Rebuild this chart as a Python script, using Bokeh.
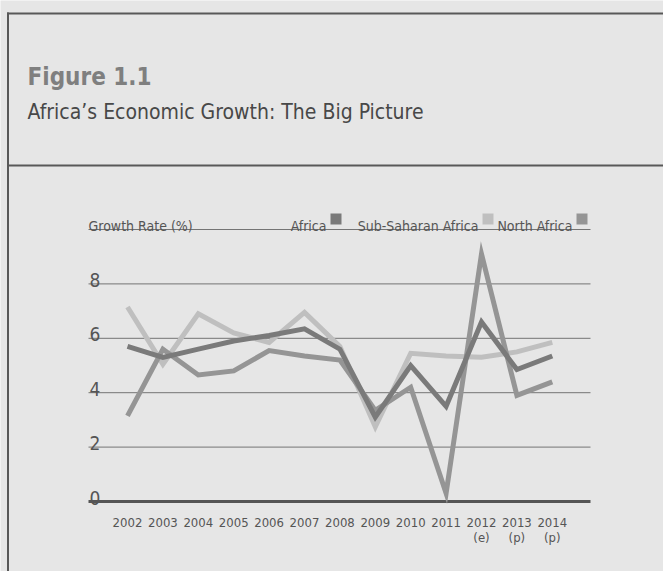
from bokeh.plotting import figure
from bokeh.models import Range1d
from bokeh.core.properties import value
from bokeh.embed import file_html
from bokeh.resources import INLINE

# ---------------- data ----------------
years = [2002, 2003, 2004, 2005, 2006, 2007, 2008, 2009, 2010, 2011, 2012, 2013, 2014]
year_labels = ["2002", "2003", "2004", "2005", "2006", "2007", "2008", "2009", "2010", "2011", "2012", "2013", "2014"]
year_sub = ["", "", "", "", "", "", "", "", "", "", "(e)", "(p)", "(p)"]
africa = [5.7, 5.3, 5.6, 5.9, 6.1, 6.35, 5.6, 3.1, 5.0, 3.5, 6.6, 4.85, 5.35]
sub_saharan = [7.15, 5.05, 6.9, 6.2, 5.85, 6.95, 5.7, 2.75, 5.45, 5.35, 5.3, 5.5, 5.85]
north_africa = [3.15, 5.6, 4.65, 4.8, 5.55, 5.35, 5.2, 3.35, 4.2, 0.3, 9.1, 3.9, 4.4]
y_ticks = [0, 2, 4, 6, 8]
grid_values = [2, 4, 6, 8, 10]
series_names = ["Africa", "Sub-Saharan Africa", "North Africa"]

# ---------------- layout helpers (pixel -> data) ----------------
W, H = 663, 571
XSTEP = 35.4          # px per year
X2002 = 127.0         # x pixel of 2002
YUNIT = 27.2          # px per growth point
Y0 = 501.0            # y pixel of value 0
x_start = 2002 - X2002 / XSTEP
x_end = x_start + W / XSTEP
y_start = -(H - Y0) / YUNIT
y_end = y_start + H / YUNIT


def dx(px):
    return x_start + px / XSTEP


def dy(py):
    return (Y0 - py) / YUNIT


FONT = value("DejaVu Sans Condensed, Roboto, sans-serif")
BG = "#e6e6e6"
C_AFR = "#7a7a7a"
C_SSA = "#bfbfbf"
C_NA = "#959595"
TXT = "#555555"

p = figure(width=W, height=H, output_backend="svg", toolbar_location=None,
           x_range=Range1d(x_start, x_end), y_range=Range1d(y_start, y_end),
           x_axis_type=None, y_axis_type=None,
           min_border=0, min_border_left=0, min_border_right=0,
           min_border_top=0, min_border_bottom=0)
p.outline_line_color = None
p.background_fill_color = BG
p.border_fill_color = BG
p.grid.visible = False

# frame lines
p.segment(x0=[dx(7.5)], y0=[dy(12)], x1=[dx(7.5)], y1=[dy(620)], line_color="#585858", line_width=2)
p.segment(x0=[dx(6.5)], y0=[dy(13)], x1=[dx(720)], y1=[dy(13)], line_color="#585858", line_width=2)
p.segment(x0=[dx(6.5)], y0=[dy(165)], x1=[dx(720)], y1=[dy(165)], line_color="#585858", line_width=2)

# titles
p.text(x=[dx(27)], y=[dy(76)], text=["Figure 1.1"], text_font=FONT, text_font_style="bold",
       text_font_size="24px", text_color="#7f7f7f", text_baseline="alphabetic")
p.text(x=[dx(27)], y=[dy(111)], text=["Africa\u2019s Economic Growth: The Big Picture"], text_font=FONT,
       text_font_size="21px", text_color="#484848", text_baseline="alphabetic")

# gridlines
p.segment(x0=[dx(88)] * len(grid_values), y0=grid_values, x1=[dx(590)] * len(grid_values), y1=grid_values,
          line_color="#747474", line_width=1)
p.segment(x0=[dx(88)], y0=[0], x1=[dx(590)], y1=[0], line_color="#555555", line_width=3)

# y tick labels (above gridlines)
p.text(x=[dx(89)] * len(y_ticks), y=[v + 4 / YUNIT for v in y_ticks], text=[str(v) for v in y_ticks],
       text_font=FONT, text_font_size="19px", text_color=TXT, text_baseline="alphabetic",
       text_align="left")

# x labels
p.text(x=years, y=[dy(521.5)] * len(years), text=year_labels, text_font=FONT, text_font_size="13px",
       text_color=TXT, text_baseline="alphabetic", text_align="center")
p.text(x=years, y=[dy(537)] * len(years), text=year_sub, text_font=FONT, text_font_size="13px",
       text_color=TXT, text_baseline="alphabetic", text_align="center")

# axis title + legend
p.text(x=[dx(88)], y=[dy(225)], text=["Growth Rate (%)"], text_font=FONT, text_font_size="14px",
       text_color=TXT, text_baseline="alphabetic")
sw_right = [341, 493, 587]
sw_colors = [C_AFR, C_SSA, C_NA]
p.quad(left=[dx(r - 11) for r in sw_right], right=[dx(r) for r in sw_right],
       top=[dy(213)] * 3, bottom=[dy(224)] * 3, fill_color=sw_colors, line_color=None)
p.text(x=[dx(r - 15) for r in sw_right], y=[dy(225)] * 3, text=series_names, text_font=FONT,
       text_font_size="14px", text_color=TXT, text_baseline="alphabetic", text_align="right")

# series
p.line(years, sub_saharan, line_color=C_SSA, line_width=5, line_join="miter")
p.line(years, north_africa, line_color=C_NA, line_width=5, line_join="miter")
p.line(years, africa, line_color=C_AFR, line_width=5, line_join="miter")

open("out.html", "w").write(file_html(p, INLINE))
